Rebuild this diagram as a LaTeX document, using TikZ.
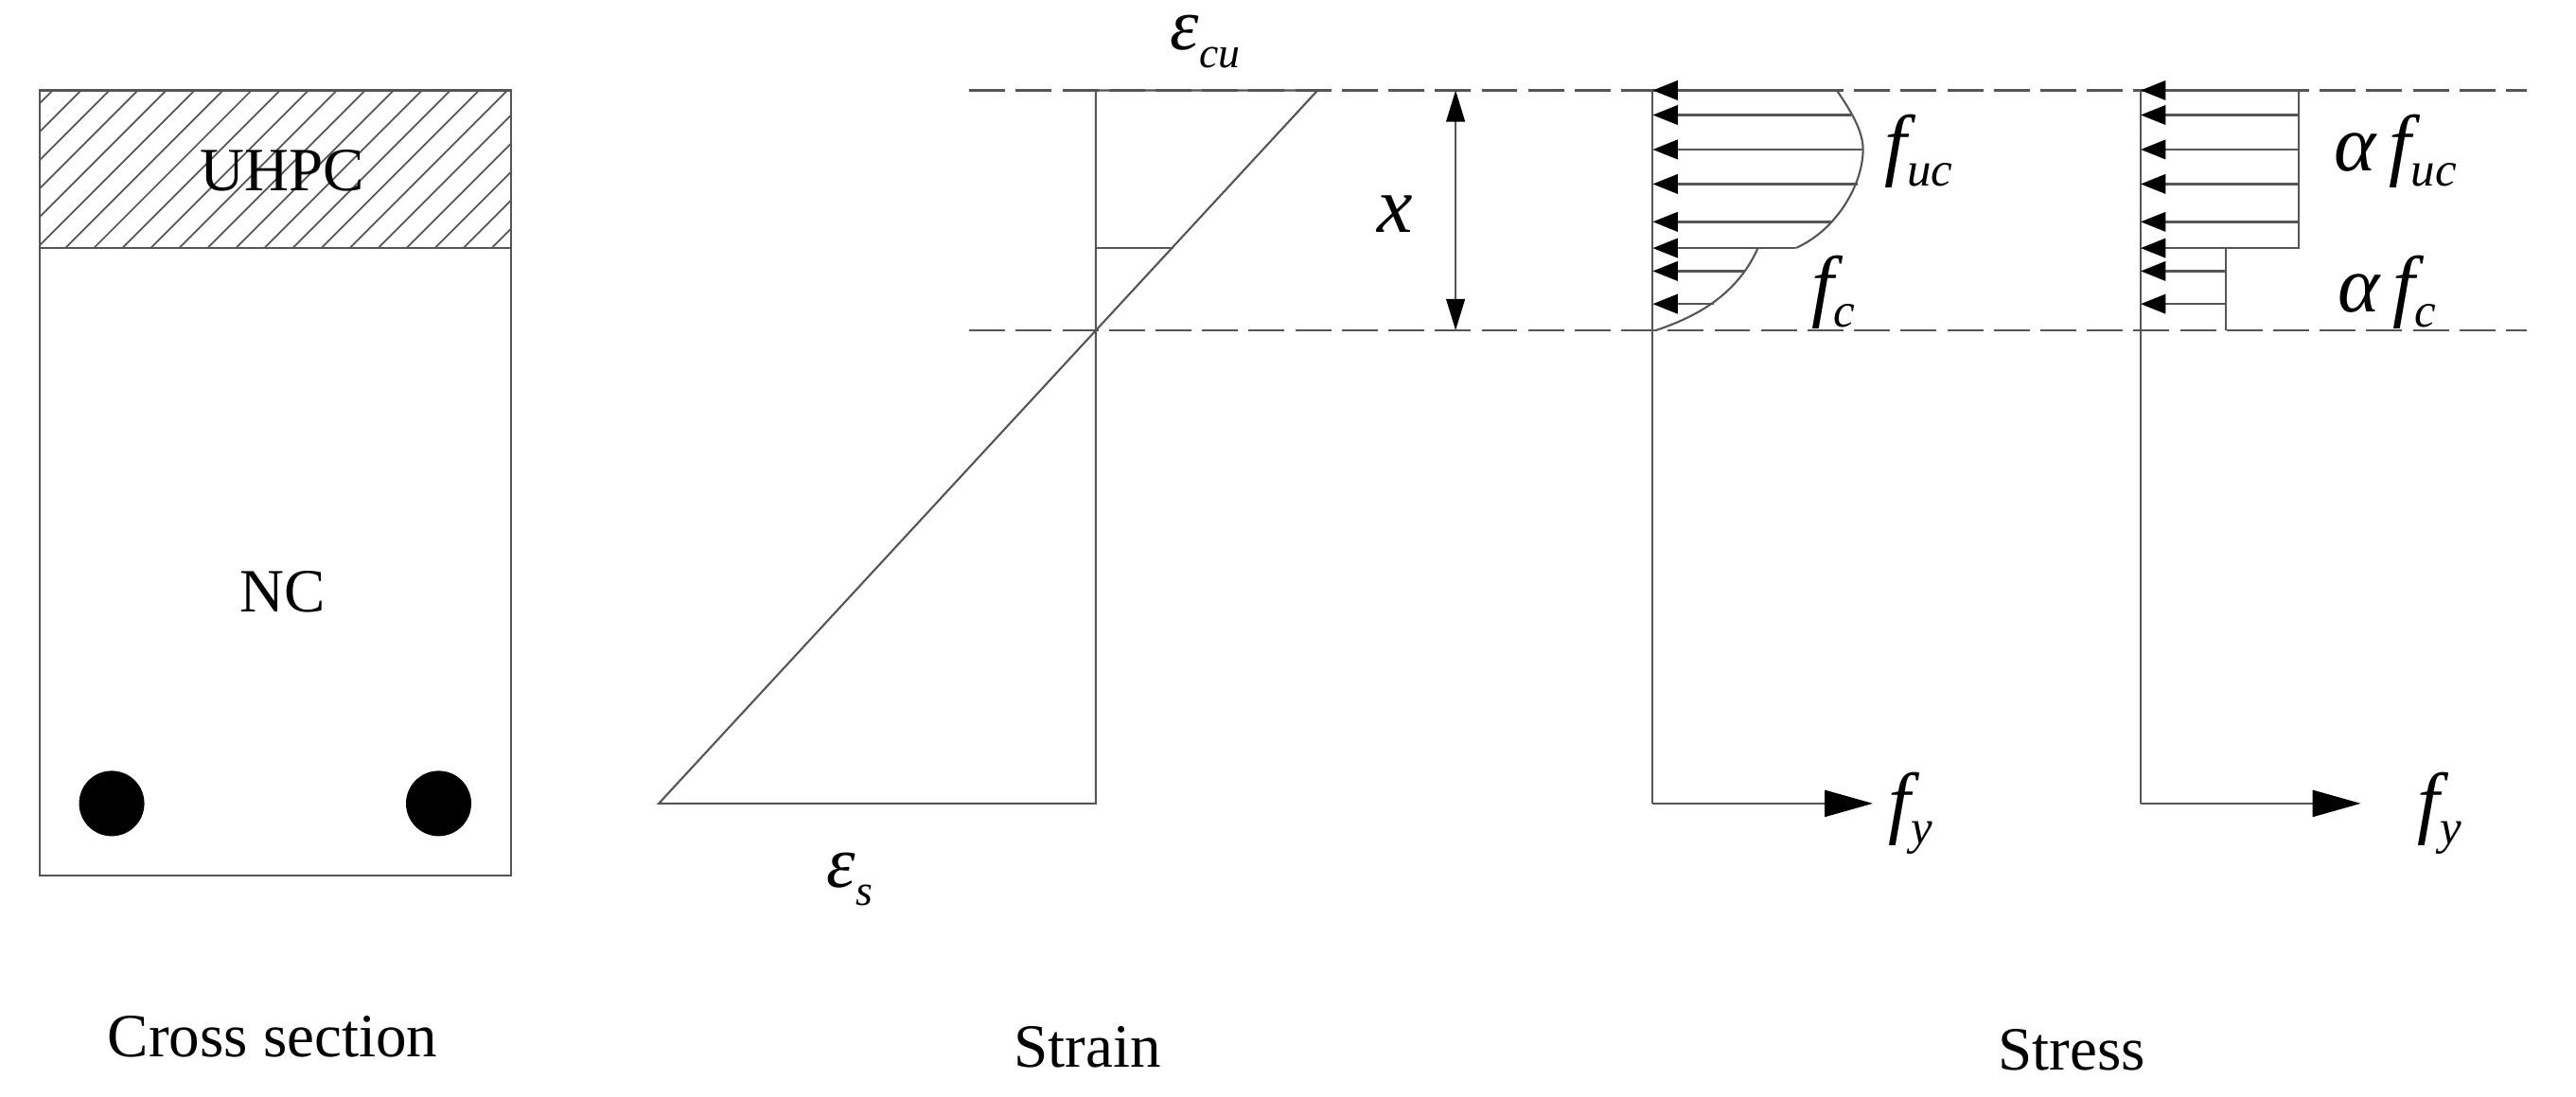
\documentclass[tikz,border=0pt]{standalone}
\usepackage{fontspec}
\usepackage{xcolor}
\setmainfont{Liberation Serif}
\usetikzlibrary{arrows.meta}
\definecolor{linegray}{RGB}{85,85,85}
\newcommand{\SymLabel}[2]{{\fontsize{24}{24}\selectfont\itshape #1}\raisebox{-1ex}{\fontsize{14.5}{14.5}\selectfont\itshape #2}}
\newcommand{\EpsLabel}[1]{{\fontsize{22}{22}\selectfont\itshape ε}\raisebox{-5.4pt}{\fontsize{13}{13}\selectfont\itshape #1}}

\begin{document}
\begin{tikzpicture}[
    x=0.1736mm,
    y=-0.1736mm,
    member/.style={draw=linegray, line width=0.6pt},
    guide/.style={draw=linegray, line width=0.7pt, dash pattern=on 10.8pt off 3.2pt},
    dim/.style={member, {Triangle[length=9.4pt,width=5.6pt,black]}-{Triangle[length=9.4pt,width=5.6pt,black]}},
    stressline/.style={draw=linegray, line width=0.7pt, {Triangle[length=7.5pt,width=5.8pt,black]}-},
    yieldline/.style={member, -{Triangle[length=14.5pt,width=8pt,black]}},
    rebar/.style={circle, fill=black, minimum size=0.69cm, inner sep=0pt},
    plainlabel/.style={font=\fontsize{18.5}{18.5}\selectfont, inner sep=0pt},
    symbol/.style={inner sep=0pt}
]
    \useasboundingbox (0,0) rectangle (1568,667.6);

    % Cross section
    \begin{scope}
        \clip (24,55) rectangle (311,151);
        \foreach \i in {0,...,22} {
            \draw[draw=linegray, line width=0.5pt] ({32+17.3*\i},55) -- ({32+17.3*\i-96},151);
        }
    \end{scope}
    \draw[member] (24,55) rectangle (311,533);
    \draw[member] (24,151) -- (311,151);
    \node[plainlabel] (uhpc) at (172,104) {UHPC};
    \node[plainlabel] (nc) at (172,360) {NC};
    \node[rebar] (barleft) at (68,489) {};
    \node[rebar] (barright) at (267,489) {};
    \node[plainlabel] (crosstitle) at (166,631) {Cross section};

    % Strain
    \draw[guide] (590,55) -- (1538,55);
    \draw[guide] (590,201) -- (1538,201);
    \draw[member] (667,55) -- (802,55) -- (401,489) -- (667,489) -- cycle;
    \draw[member] (667,151) -- (714,151);
    \draw[dim] (886,55) -- (886,201);
    \node[symbol] (depth) at (849,130) {\fontsize{24}{24}\selectfont\itshape x};
    \node[symbol, anchor=base west] (epscu) at (712,30) {\EpsLabel{cu}};
    \node[symbol, anchor=base west] (epss) at (503,540) {\EpsLabel{s}};
    \node[plainlabel] (straintitle) at (662,637) {Strain};

    % Stress, curved block
    \draw[member] (1006,55) -- (1006,489);
    \draw[yieldline] (1006,489) -- (1140,489);
    \draw[member] (1118,55) .. controls (1127,68) and (1134,80) .. (1134,91) .. controls (1134,112) and (1118,140) .. (1093,151);
    \draw[member] (1070,151) .. controls (1058,178) and (1035,192) .. (1008,201);
    \foreach \yy/\xx in {55/1118, 70/1127, 91/1134, 112/1131, 135/1115, 151/1093, 165/1062, 185/1043} {
        \draw[stressline] (1006,\yy) -- (\xx,\yy);
    }
    \node[symbol] (fuc) at (1168,92) {\SymLabel{f}{uc}};
    \node[symbol] (fc) at (1116,178) {\SymLabel{f}{c}};
    \node[symbol] (fyone) at (1163,495) {\SymLabel{f}{y}};

    % Stress, rectangular block
    \draw[member] (1303,55) -- (1303,489);
    \draw[yieldline] (1303,489) -- (1437,489);
    \draw[member] (1303,55) -- (1399,55) -- (1399,151) -- (1355,151) -- (1355,201);
    \foreach \yy in {55, 70, 91, 112, 135, 151} {
        \draw[stressline] (1303,\yy) -- (1399,\yy);
    }
    \foreach \yy in {165, 185} {
        \draw[stressline] (1303,\yy) -- (1355,\yy);
    }
    \node[symbol] (afuc) at (1458,92) {{\fontsize{24}{24}\selectfont\itshape α\,}\SymLabel{f}{uc}};
    \node[symbol] (afc) at (1453,178) {{\fontsize{24}{24}\selectfont\itshape α\,}\SymLabel{f}{c}};
    \node[symbol] (fytwo) at (1485,495) {\SymLabel{f}{y}};
    \node[plainlabel] (stresstitle) at (1261,639) {Stress};
\end{tikzpicture}
\end{document}
